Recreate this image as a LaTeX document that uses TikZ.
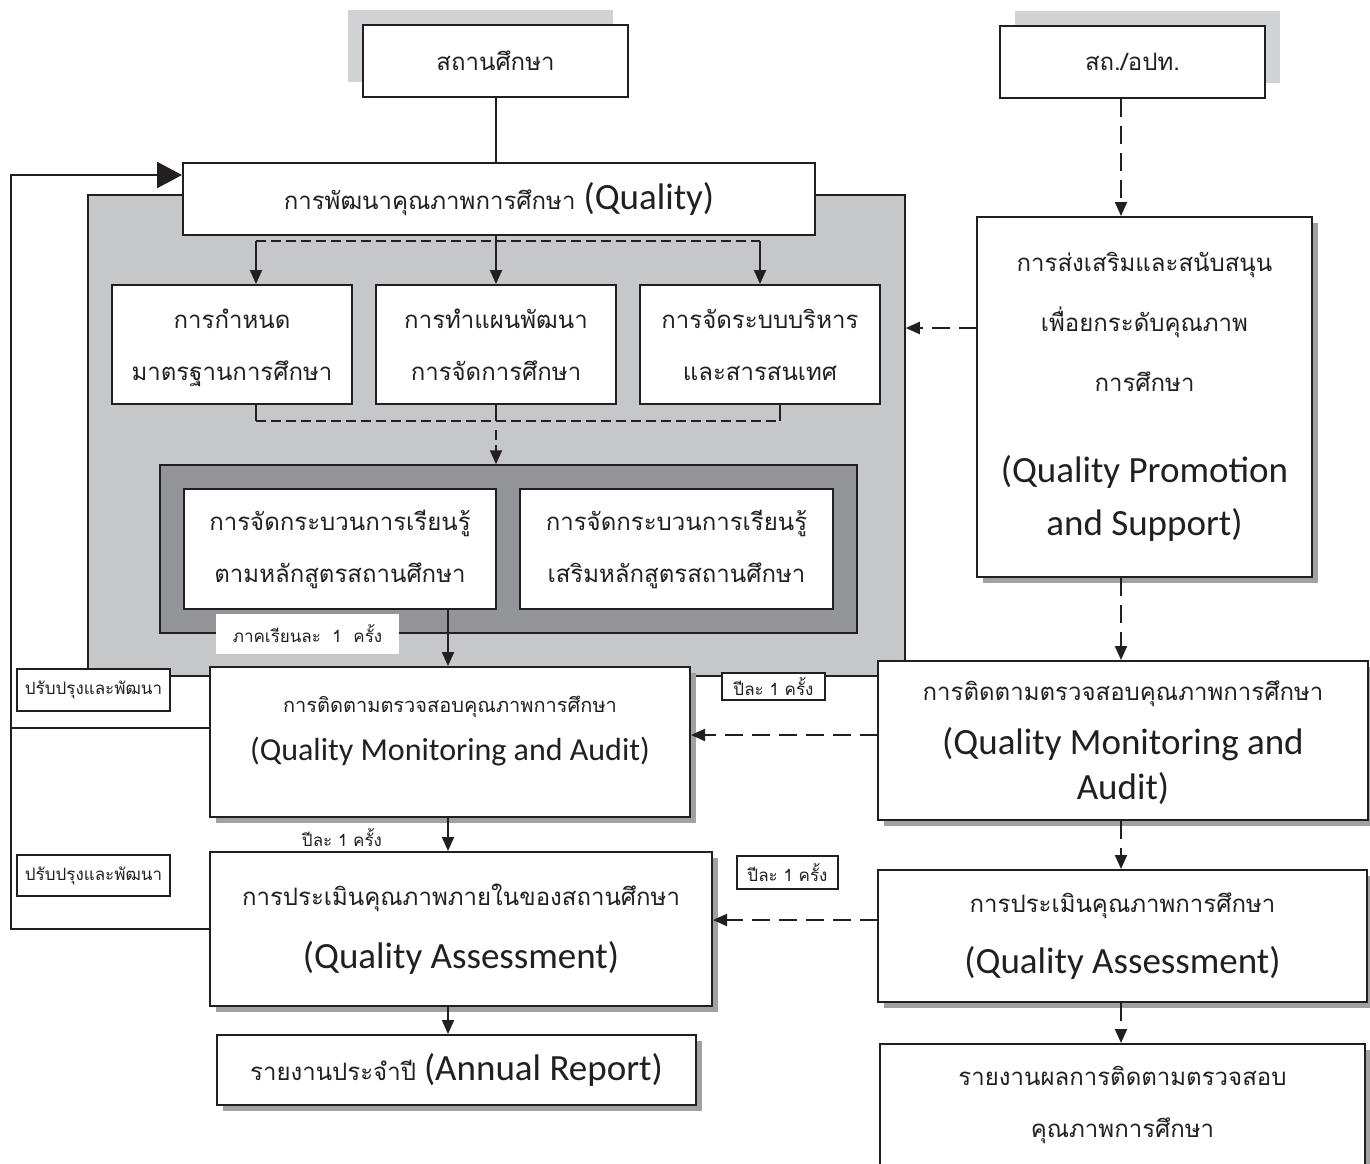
\documentclass[tikz,border=0pt]{standalone}
\usepackage{fontspec}
\setmainfont{Carlito}
\newfontfamily\thaifont[Script=Thai]{Loma}
\usetikzlibrary{arrows.meta, positioning, shadows, calc}
\definecolor{ink}{HTML}{231F20}
\definecolor{panellight}{HTML}{C6C7C9}
\definecolor{paneldark}{HTML}{939598}
\definecolor{shadowgray}{HTML}{9FA1A4}
\definecolor{backgray}{HTML}{D1D2D4}
\newcommand{\thbig}{\thaifont\fontsize{24}{52}\selectfont}
\newcommand{\thmid}{\thaifont\fontsize{20}{48}\selectfont}
\newcommand{\thsmall}{\thaifont\fontsize{17}{20}\selectfont}
\newcommand{\enbig}{\normalfont\fontsize{37}{44}\selectfont}
\newcommand{\enmid}{\normalfont\fontsize{32}{40}\selectfont}
\tikzset{%
  panel/.style={draw=ink, line width=1.5pt, inner sep=0pt},
  box/.style={draw=ink, line width=2pt, fill=white, text=ink, align=center, inner sep=0pt},
  shadowbox/.style={box, drop shadow={shadow xshift=6pt, shadow yshift=-6pt, fill=shadowgray, opacity=1}},
  backed/.style={general shadow={shadow xshift=#1, shadow yshift=15pt, fill=backgray}},
  tag/.style={draw=ink, line width=1.5pt, fill=white, text=ink, inner sep=0pt, font=\thsmall},
  link/.style={draw=ink, line width=2pt},
  move/.style={link, -{Triangle[length=14pt, width=12pt]}},
  dmove/.style={move, dash pattern=on 18pt off 9pt},
  bus/.style={draw=ink, line width=1.5pt, dash pattern=on 10pt off 5pt},
  loopback/.style={draw=ink, line width=2.5pt},
}
\begin{document}
\begin{tikzpicture}[x=1pt, y=-1pt]
  \useasboundingbox (0,0) rectangle (1370,1163);
  % grey frames
  \node[panel, fill=panellight, minimum width=817pt, minimum height=481pt] (outer) at (496.5,435.5) {};
  \node[panel, fill=paneldark, minimum width=697pt, minimum height=168pt] (inner) at (508.5,549) {};

  % left column
  \node[box, backed=-15pt, minimum width=265pt, minimum height=72pt, font=\thbig] (school) at (495.5,61) {สถานศึกษา};
  \node[box, minimum width=632pt, minimum height=72pt, font=\thbig] (quality) at (499,199)
    {การพัฒนาคุณภาพการศึกษา {\enbig (Quality)}};
  \node[box, minimum width=240pt, minimum height=119pt, font=\thbig, text depth=-4pt] (standard) at (232,344.5)
    {การกำหนด\\มาตรฐานการศึกษา};
  \node[box, minimum width=240pt, minimum height=119pt, font=\thbig] (plan) at (496,344.5)
    {การทำแผนพัฒนา\\การจัดการศึกษา};
  \node[box, minimum width=240pt, minimum height=119pt, font=\thbig] (system) at (760,344.5)
    {การจัดระบบบริหาร\\และสารสนเทศ};
  \node[box, minimum width=312pt, minimum height=120pt, font=\thbig] (course) at (340,549)
    {การจัดกระบวนการเรียนรู้\\ตามหลักสูตรสถานศึกษา};
  \node[box, minimum width=313pt, minimum height=120pt, font=\thbig] (extra) at (676.5,549)
    {การจัดกระบวนการเรียนรู้\\เสริมหลักสูตรสถานศึกษา};
  \node[fill=white, text=ink, minimum width=183pt, minimum height=40pt, inner sep=0pt, font=\thsmall] (semester) at (307.5,634)
    {ภาคเรียนละ\ \ 1\ \ ครั้ง};
  \node[shadowbox, minimum width=480pt, minimum height=150pt, font=\thmid, text depth=28pt] (monitor) at (450,742)
    {การติดตามตรวจสอบคุณภาพการศึกษา\\{\enmid (Quality Monitoring and Audit)}};
  \node[shadowbox, minimum width=502pt, minimum height=154pt, font=\thbig] (assess) at (461,929)
    {การประเมินคุณภาพภายในของสถานศึกษา\\[11pt]{\enbig (Quality Assessment)}};
  \node[shadowbox, minimum width=479pt, minimum height=70pt, font=\thbig] (annual) at (456.5,1070)
    {รายงานประจำปี {\enbig (Annual Report)}};

  % right column
  \node[box, backed=15pt, minimum width=265pt, minimum height=72pt, font=\thbig] (local) at (1132.5,62) {สถ./อปท.};
  \node[shadowbox, minimum width=335pt, minimum height=360pt, font=\thaifont\fontsize{24}{60}\selectfont] (promote) at (1144.5,397)
    {การส่งเสริมและสนับสนุน\\เพื่อยกระดับคุณภาพ\\การศึกษา\\[31pt]{\enbig (Quality Promotion}\\[-7pt]{\enbig and Support)}};
  \node[shadowbox, minimum width=490pt, minimum height=159pt, font=\thaifont\fontsize{24}{45}\selectfont, text depth=-7pt] (rmonitor) at (1123,740.5)
    {การติดตามตรวจสอบคุณภาพการศึกษา\\[9pt]{\enbig (Quality Monitoring and}\\{\enbig Audit)}};
  \node[shadowbox, minimum width=489pt, minimum height=132pt, font=\thaifont\fontsize{24}{61}\selectfont] (rassess) at (1122.5,936)
    {การประเมินคุณภาพการศึกษา\\{\enbig (Quality Assessment)}};
  \node[shadowbox, minimum width=485pt, minimum height=122pt, font=\thbig] (report) at (1122.5,1105)
    {รายงานผลการติดตามตรวจสอบ\\คุณภาพการศึกษา};

  % small labels
  \node[tag, minimum width=153pt, minimum height=42pt] (adjustA) at (93.5,690) {ปรับปรุงและพัฒนา};
  \node[tag, minimum width=153pt, minimum height=41pt] (adjustB) at (93.5,875.5) {ปรับปรุงและพัฒนา};
  \node[tag, minimum width=103pt, minimum height=27pt] (yearA) at (773.5,686.5) {ปีละ\ 1\ ครั้ง};
  \node[text=ink, inner sep=0pt, font=\thsmall] (yearB) at (342,838) {ปีละ 1 ครั้ง};
  \node[tag, minimum width=101pt, minimum height=33pt] (yearC) at (787.5,872.5) {ปีละ\ 1\ ครั้ง};

  % helper points
  \coordinate (fanL) at (256,241);
  \coordinate (fanR) at (760,241);
  \coordinate (joinL) at (256,421);
  \coordinate (joinC) at (496,421);
  \coordinate (joinR) at (780,421);
  \coordinate (axis) at (448,0);
  \coordinate (spine) at (1121,0);
  \coordinate (rail) at (11,0);
  \coordinate (promoteout) at (977,328);
  \coordinate (rmonitorout) at (878,735);
  \coordinate (rassessout) at (878,920);
  \coordinate (monitorback) at (210,728);

  % school side
  \draw[link] (school.south) -- (school.south |- quality.north);
  \draw[move] (plan.north |- quality.south) -- (plan.north);
  \draw[bus] (fanL) -- (fanR);
  \draw[move] (fanL) -- (fanL |- standard.north);
  \draw[move] (fanR) -- (fanR |- system.north);
  \draw[link] (standard.south -| joinL) -- (joinL);
  \draw[link] (plan.south) -- (joinC);
  \draw[link] (system.south -| joinR) -- (joinR);
  \draw[bus] (joinL) -- (joinR);
  \draw[move, dash pattern=on 10pt off 5pt] ($(joinC)+(0,9)$) -- (joinC |- inner.north);
  \draw[move] (course.south -| axis) -- (monitor.north -| axis);
  \draw[move] (monitor.south -| axis) -- (assess.north -| axis);
  \draw[move] (assess.south -| axis) -- (annual.north -| axis);

  % feedback loop
  \draw[loopback] (monitorback) -- (monitorback -| rail);
  \draw[loopback, -{Triangle[length=25pt, width=26pt]}] (assess.west) -| (rail |- quality.west)
    |- ($(quality.west)+(0,-24)$);

  % office side
  \draw[dmove] (local.south -| spine) -- (promote.north -| spine);
  \draw[dmove] (promoteout) -- (promoteout -| outer.east);
  \draw[dmove] (promote.south -| spine) -- (rmonitor.north -| spine);
  \draw[dmove] (rmonitorout) -- (rmonitorout -| monitor.east);
  \draw[dmove] (rmonitor.south -| spine) -- (rassess.north -| spine);
  \draw[dmove] (rassessout) -- (rassessout -| assess.east);
  \draw[dmove] (rassess.south -| spine) -- (report.north -| spine);
\end{tikzpicture}
\end{document}
